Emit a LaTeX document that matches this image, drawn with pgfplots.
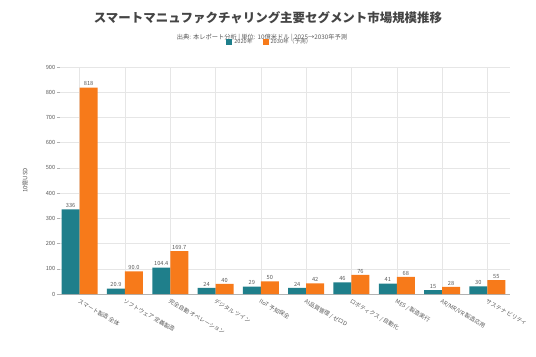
\documentclass[border=0pt]{standalone}
\usepackage{pgfplots}
\pgfplotsset{compat=1.18}
\usepackage{pgfplotstable}
\usepackage{fontspec}
\setmainfont{Noto Sans CJK JP}
\definecolor{cteal}{HTML}{1F7F8B}
\definecolor{corange}{HTML}{F77A1A}
\definecolor{ctxt}{HTML}{5A5A5A}
\definecolor{ctitle}{HTML}{444444}
\definecolor{cgrid}{HTML}{E6E6E6}
\pgfplotstableread{
x a b la lb
0 336 818 336 818
1 20.9 90.0 20.9 90.0
2 104.4 169.7 104.4 169.7
3 24 40 24 40
4 29 50 29 50
5 24 42 24 42
6 46 76 46 76
7 41 68 41 68
8 15 28 15 28
9 30 55 30 55
}\datatable
\begin{document}
\begin{tikzpicture}
\useasboundingbox (0,0) rectangle (536bp,357bp);
\node[font=\fontsize{12.5}{14}\selectfont\bfseries, text=ctitle] at (268bp,339bp) {スマートマニュファクチャリング主要セグメント市場規模推移};
\node[font=\fontsize{6.3}{7}\selectfont, text=ctxt] at (262bp,319bp) {出典: 本レポート分析 | 単位: 10億米ドル | 2025→2030年予測};
\begin{axis}[
  at={(57bp,63bp)}, anchor=south west,
  scale only axis, width=453bp, height=227bp,
  xmin=-0.5, xmax=9.5, ymin=0, ymax=900,
  ytick={0,100,...,900},
  xtick={0,...,9},
  xticklabels={スマート製造 全体, ソフトウェア 定義製造, 完全自動 オペレーション, デジタル ツイン, IIoT 予知保全, AI品質管理 / ゼロD, ロボティクス / 自動化, MES / 製造実行, AR/MR/VR 製造応用, サステナ ビリティ},
  xticklabel style={rotate=-30, anchor=north west, font=\fontsize{5.7}{6}\selectfont, text=ctxt, inner sep=1bp},
  yticklabel style={font=\fontsize{5.7}{6}\selectfont, text=ctxt, inner sep=1.5bp},
  /pgf/number format/assume math mode=true,
  ylabel={10億USD},
  every axis y label/.style={at={(-32bp,113.5bp)}, rotate=90, anchor=center, font=\fontsize{6}{7}\selectfont, text=ctxt},
  grid=major, grid style={cgrid, line width=0.5bp},
  axis x line*=bottom, axis y line*=left,
  x axis line style={draw=gray!60, line width=0.8bp, -},
  y axis line style={draw=none},
  xtick style={draw=none},
  ytick style={draw=gray!60, line width=0.5bp},
  major tick length=3bp,
  ybar, bar width=18bp,
  nodes near coords={\pgfplotspointmeta},
  point meta=explicit symbolic,
  every node near coord/.append style={font=\fontsize{5.7}{6}\selectfont, text=ctxt, inner sep=1.5bp},
  legend columns=2,
  legend style={at={(0.47,1.11)}, anchor=center, draw=none, fill=none, font=\fontsize{5.7}{6}\selectfont, text=ctxt, /tikz/every even column/.append style={column sep=8bp}},
  legend image code/.code={\fill[#1] (0bp,-3bp) rectangle (6bp,3bp);},
  clip=false,
]
\addplot[fill=cteal, draw=none, bar shift=-9bp] table[x=x, y=a, meta=la] {\datatable};
\addplot[fill=corange, draw=none, bar shift=9bp] table[x=x, y=b, meta=lb] {\datatable};
\legend{2020年, 2030年（予測）}
\end{axis}
\end{tikzpicture}
\end{document}
